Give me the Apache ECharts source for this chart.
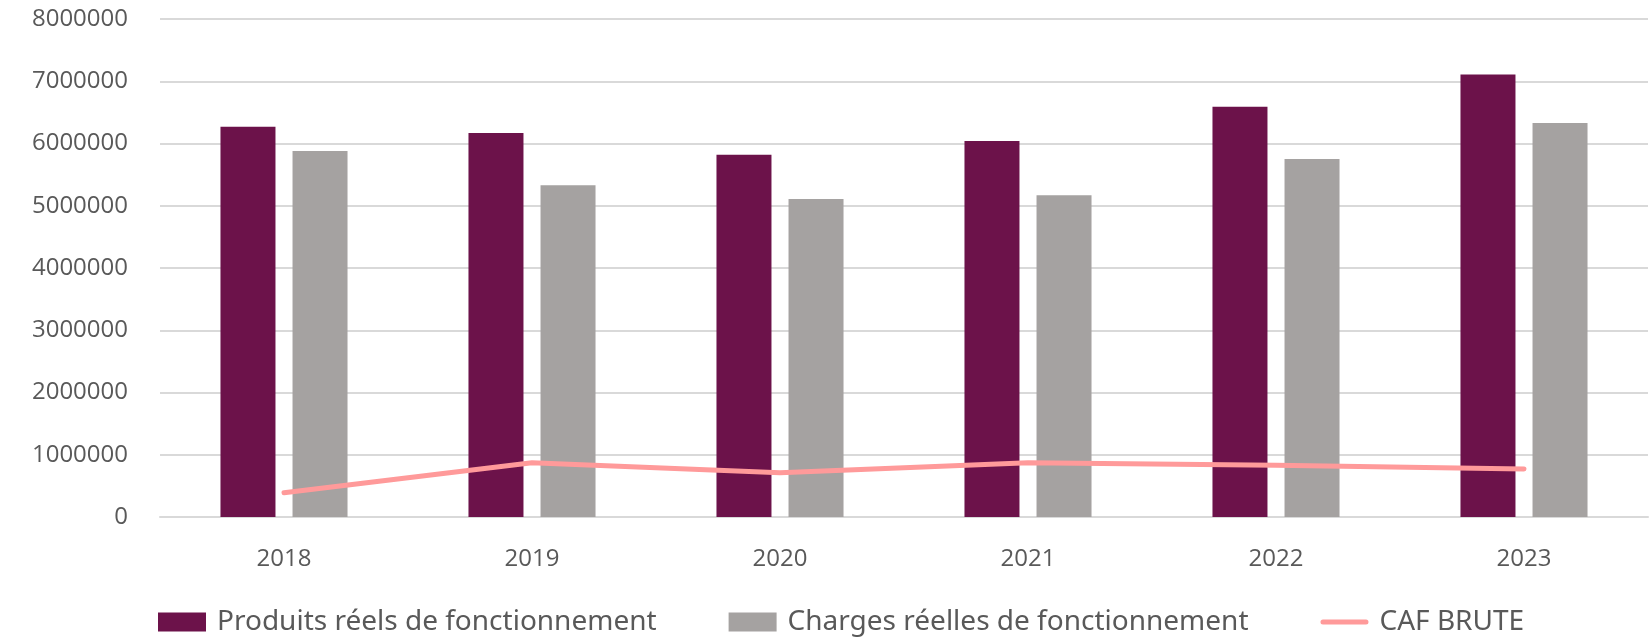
<!DOCTYPE html>
<html>
<head>
<meta charset="utf-8">
<script src="https://cdn.jsdelivr.net/npm/echarts@6/dist/echarts.min.js"></script>
<style>
html,body{margin:0;padding:0;background:#fff;}
#c{width:1651px;height:641px;}
</style>
</head>
<body>
<div id="c"></div>
<script>
const categories = ['2018', '2019', '2020', '2021', '2022', '2023'];
const produits = [6270000, 6170000, 5820000, 6040000, 6590000, 7110000];
const charges = [5880000, 5330000, 5110000, 5170000, 5750000, 6330000];
const caf = [390000, 870000, 710000, 870000, 830000, 770000];
const seriesNames = ['Produits réels de fonctionnement', 'Charges réelles de fonctionnement', 'CAF BRUTE'];

const chart = echarts.init(document.getElementById('c'));
chart.setOption({
  animation: false,
  backgroundColor: '#ffffff',
  grid: { left: 160, right: 3, top: 19, height: 498, containLabel: false },
  legend: {
    bottom: 0,
    left: 153,
    itemWidth: 48,
    itemHeight: 19,
    itemGap: 72,
    textStyle: { fontFamily: 'Liberation Sans Narrow, Noto Sans', fontSize: 28, color: '#595959', padding: [0, 0, 0, 6] },
    data: [
      { name: seriesNames[0], icon: 'rect' },
      { name: seriesNames[1], icon: 'rect' },
      { name: seriesNames[2], icon: 'path://M2.5,0 L45.5,0 A2.5,2.5 0 0 1 45.5,5 L2.5,5 A2.5,2.5 0 0 1 2.5,0 Z' }
    ]
  },
  xAxis: {
    type: 'category',
    data: categories,
    axisLine: { show: true, lineStyle: { color: '#d9d9d9', width: 2 } },
    axisTick: { show: false },
    axisLabel: { margin: 30, fontFamily: 'Open Sans', fontSize: 24, color: '#595959' }
  },
  yAxis: {
    type: 'value',
    min: 0, max: 8000000, interval: 1000000,
    axisLine: { show: false },
    axisTick: { show: false },
    splitLine: { lineStyle: { color: '#d9d9d9', width: 2 } },
    axisLabel: { margin: 32, fontFamily: 'Open Sans', fontSize: 24, color: '#595959', formatter: v => String(v) }
  },
  series: [
    { name: seriesNames[0], type: 'bar', data: produits, barWidth: 55, barGap: '31%', itemStyle: { color: '#6c124a' } },
    { name: seriesNames[1], type: 'bar', data: charges, barWidth: 55, barGap: '31%', itemStyle: { color: '#a5a2a1' } },
    { name: seriesNames[2], type: 'line', data: caf, symbol: 'none', lineStyle: { color: '#ff9a9a', width: 5, cap: 'round' }, itemStyle: { color: '#ff9a9a' }, z: 5 }
  ]
});
</script>
</body>
</html>
